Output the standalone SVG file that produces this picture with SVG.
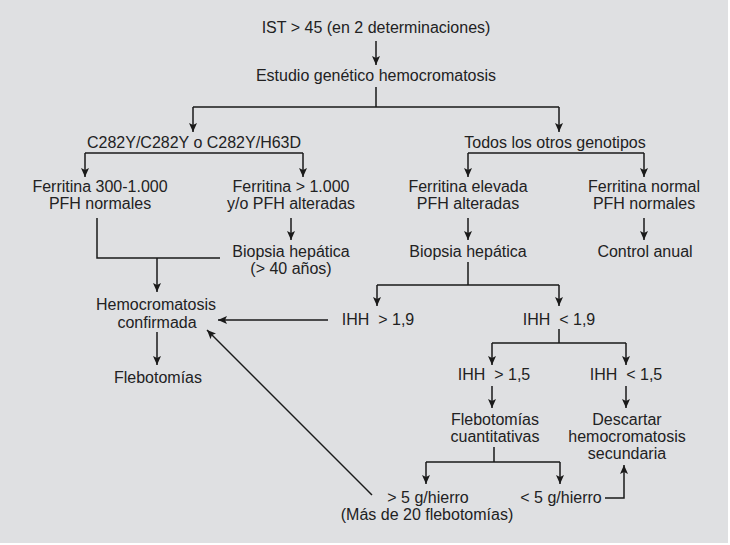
<svg xmlns="http://www.w3.org/2000/svg" width="730" height="545" viewBox="0 0 730 545">
<style>
text{font-family:"Liberation Sans",Arial,sans-serif;font-size:16px;fill:#222;text-anchor:middle;white-space:pre}
.c{fill:none;stroke:#1a1a1a;stroke-width:1.5}
.a{marker-end:url(#ah)}
</style>
<defs>
<marker id="ah" viewBox="0 0 9 8" markerWidth="9" markerHeight="8" refX="9" refY="4" orient="auto" markerUnits="userSpaceOnUse">
<path d="M0,0 L9,4 L0,8 L2,4 z" fill="#1a1a1a"/>
</marker>
</defs>
<rect x="0" y="0" width="730" height="545" fill="#ffffff"/>
<rect x="0" y="0" width="728" height="543" fill="#dfe0e2"/>
<g id="connectors">
<path class="c a" d="M376,41 V65"/>
<path class="c" d="M376,87 V107 M193,107 H559"/>
<path class="c a" d="M193,107 V132"/>
<path class="c a" d="M559,107 V132"/>
<path class="c" d="M85,153 H303"/>
<path class="c a" d="M85,153 V177"/>
<path class="c a" d="M303,153 V177"/>
<path class="c" d="M468,153 H644"/>
<path class="c a" d="M468,153 V177"/>
<path class="c a" d="M644,153 V177"/>
<path class="c a" d="M291,218 V240"/>
<path class="c a" d="M468,218 V240"/>
<path class="c a" d="M644,218 V240"/>
<path class="c" d="M97,218 V258 H220"/>
<path class="c a" d="M157,258 V292"/>
<path class="c a" d="M157,332 V365"/>
<path class="c a" d="M328,320 H218"/>
<path class="c a" d="M372,495 L207,330"/>
<path class="c" d="M468,262 V285 M377,285 H559"/>
<path class="c a" d="M377,285 V306"/>
<path class="c a" d="M559,285 V306"/>
<path class="c" d="M559,329 V343 M492,343 H626"/>
<path class="c a" d="M492,343 V365"/>
<path class="c a" d="M626,343 V365"/>
<path class="c a" d="M492,386 V408"/>
<path class="c a" d="M626,386 V408"/>
<path class="c" d="M494,447 V462 M426,462 H560"/>
<path class="c a" d="M426,462 V484"/>
<path class="c a" d="M560,462 V484"/>
<path class="c a" d="M605,498 H624 V465"/>
</g>
<g id="ist"><text x="376" y="33">IST &gt; 45 (en 2 determinaciones)</text></g>
<g id="estudio"><text x="376" y="81">Estudio genético hemocromatosis</text></g>
<g id="c282y"><text x="194" y="148">C282Y/C282Y o C282Y/H63D</text></g>
<g id="otros"><text x="555" y="148">Todos los otros genotipos</text></g>
<g id="ferr300"><text x="100" y="192">Ferritina 300-1.000</text><text x="100" y="209">PFH normales</text></g>
<g id="ferr1000"><text x="291" y="192">Ferritina &gt; 1.000</text><text x="291" y="209">y/o PFH alteradas</text></g>
<g id="ferrelev"><text x="468" y="192">Ferritina elevada</text><text x="468" y="209">PFH alteradas</text></g>
<g id="ferrnorm"><text x="644" y="192">Ferritina normal</text><text x="644" y="209">PFH normales</text></g>
<g id="biopsia1"><text x="291" y="257">Biopsia hepática</text><text x="291" y="274">(&gt; 40 años)</text></g>
<g id="biopsia2"><text x="468" y="257">Biopsia hepática</text></g>
<g id="control"><text x="645" y="257">Control anual</text></g>
<g id="hemo"><text x="156" y="310">Hemocromatosis</text><text x="157" y="328">confirmada</text></g>
<g id="flebo"><text x="158" y="383">Flebotomías</text></g>
<g id="ihh19a"><text x="378" y="325">IHH  &gt; 1,9</text></g>
<g id="ihh19b"><text x="559" y="325">IHH  &lt; 1,9</text></g>
<g id="ihh15a"><text x="494" y="380">IHH  &gt; 1,5</text></g>
<g id="ihh15b"><text x="626" y="380">IHH  &lt; 1,5</text></g>
<g id="flebocuant"><text x="495" y="425">Flebotomías</text><text x="495" y="442">cuantitativas</text></g>
<g id="descartar"><text x="627" y="425">Descartar</text><text x="627" y="442">hemocromatosis</text><text x="627" y="459">secundaria</text></g>
<g id="mas5"><text x="428" y="503">&gt; 5 g/hierro</text><text x="427" y="520">(Más de 20 flebotomías)</text></g>
<g id="menos5"><text x="561" y="503">&lt; 5 g/hierro</text></g>
</svg>
